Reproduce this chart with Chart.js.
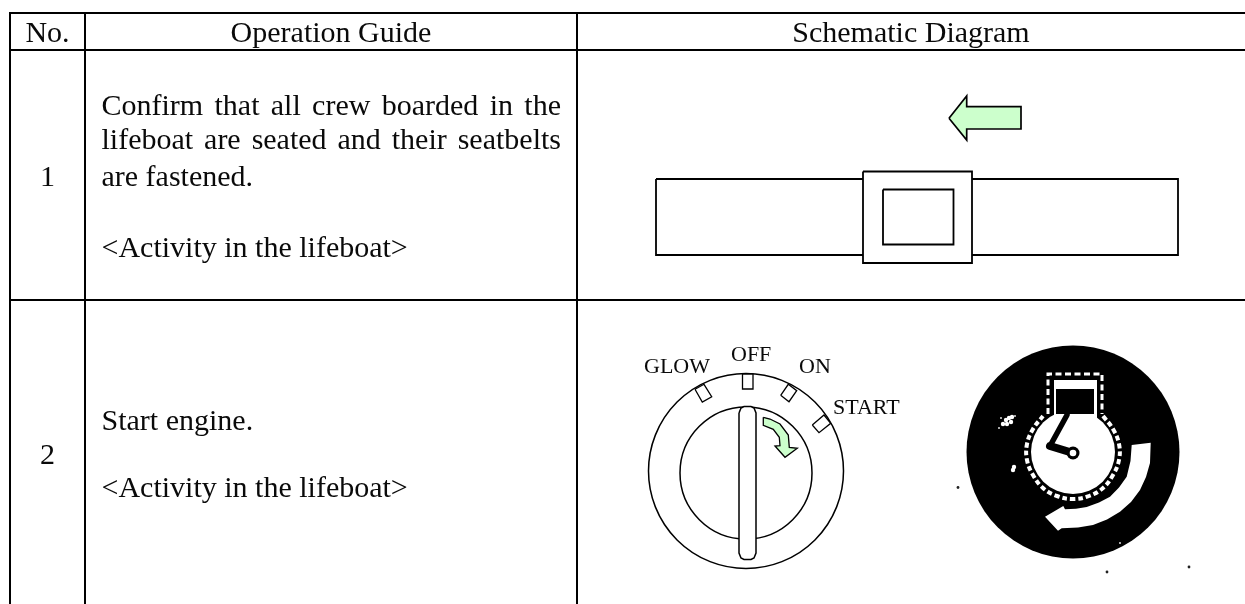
<!DOCTYPE html>
<html>
<head>
<meta charset="utf-8">
<title>Operation Guide</title>
<script src="https://cdn.jsdelivr.net/npm/chart.js@4"></script>
<style>
html, body { margin: 0; padding: 0; background: #fff; }
canvas { display: block; }
</style>
</head>
<body>
<canvas id="myChart" width="1245" height="604"></canvas>
<script>
// table grid
var columnLines = [10, 85, 577];
var rowLines = [13, 50, 300];

// table text
var cellTexts = ['No.', 'Operation Guide', 'Schematic Diagram', '1', '2'];
var cellX = [47.5, 331, 911, 47.5, 47.5];
var cellY = [42, 42, 42, 186, 464];

var guideLines = ['Confirm that all crew boarded in the', 'lifeboat are seated and their seatbelts', 'are fastened.', '<Activity in the lifeboat>', 'Start engine.', '<Activity in the lifeboat>'];
var guideY = [115, 149, 186, 257, 430, 497];
var guideJustified = [true, true, false, false, false, false];

var dialLabels = ['GLOW', 'OFF', 'ON', 'START'];
var dialLabelX = [644, 731, 799, 833];
var dialLabelY = [373, 361, 373, 414];

// seatbelt picture, row 1
var beltArrow = [[949,118.3],[966.7,96],[966.7,106.7],[1021,106.7],[1021,129],[966.7,129],[966.7,140]];
var beltStrap = [[656,179],[1178,179],[1178,255],[656,255]];
var buckleOuter = [[863,171.5],[972,171.5],[972,263],[863,263]];
var buckleInner = [[883,189.5],[953.5,189.5],[953.5,244.5],[883,244.5]];

// ignition switch, row 2
var dialOuter = [{x: 746, y: 471, r: 97.5}];
var dialInner = [{x: 746, y: 473, r: 66}];
var tickGlow = [[695,389.3],[704,384.3],[711.7,396.7],[702.3,402]];
var tickOff = [[742.5,374],[753,374],[753,389],[742.5,389]];
var tickOn = [[780.7,395.3],[788.3,384.3],[796.7,390.7],[789,401.7]];
var tickStart = [[812.3,425],[824,415],[830.7,423.3],[819,432.7]];
var knob = [[739,413],[741,408],[744,406.5],[751,406.5],[754,408],[756,413],[756,553],[754,558],[751,559.5],[744,559.5],[741,558],[739,553]];
var turnArrow = [[763.3,417.3],[763.3,425.3],[773.3,429.3],[779.3,437.3],[780,445.7],[775,446],[785,457.3],[797.3,448.3],[789.3,447.3],[788.3,435],[780,424],[770,419]];

// engine symbol, row 2
var symbolDisc = [{x: 1073, y: 452, r: 106.5}];
var symbolFace = [{x: 1073, y: 452, r: 42}];
var symbolHub = [{x: 1073, y: 453, r: 6.5}];
var symbolHole = [{x: 1073, y: 453, r: 3.3}];
var symbolNeck = [[1054,380],[1097,380],[1097,420],[1054,420]];
var symbolHead = [[1056,389],[1094,389],[1094,414],[1056,414]];
var crankUpper = [[1067,415],[1050,446]];
var crankLower = [[1050,446],[1073,453]];
var ringArc = [[1103,416],[1113,429],[1119,444],[1119,460],[1113,475],[1103,488],[1089,496],[1073,499],[1057,496],[1043,488],[1033,475],[1027,460],[1027,444],[1033,429],[1043,416]];
var ringTop = [[1048,414],[1048,374],[1102,374],[1102,414]];
var whiteArrow = [[1150.7,442.7],[1150,463],[1146,477],[1140,490],[1131,502],[1120,511.7],[1107,519.5],[1093,525],[1078,527.5],[1061.7,528.3],[1058,530.7],[1045,516.7],[1063.3,506],[1065,509.3],[1076,508.8],[1086.7,507],[1099,502.5],[1110,496.7],[1119,487.5],[1126.7,476.7],[1130.5,461],[1131.7,445]];
var whiteSpecks = [{x:1006,y:420},{x:1009,y:418},{x:1011,y:422},{x:1003,y:424},{x:1007,y:424},{x:1012,y:417},{x:1013,y:470},{x:1014,y:467}];
var smallSpecks = [{x:999,y:428},{x:1015,y:416},{x:1001,y:418},{x:1120,y:543}];
var blackSpecks = [{x:958,y:487.5},{x:1189,y:567},{x:1107,y:572}];

function toPoints(list) {
  return list.map(function(p) { return {x: p[0], y: p[1]}; });
}

function shape(list, fillColor, width) {
  var pts = toPoints(list);
  pts.push(pts[0]);
  return {
    type: 'scatter', data: pts, showLine: true, tension: 0, pointRadius: 0,
    borderColor: '#000', borderWidth: width, backgroundColor: fillColor,
    fill: fillColor ? 'shape' : false, borderJoinStyle: 'miter'
  };
}

function stroke(list, color, width, dash, tension, cap) {
  return {
    type: 'scatter', data: toPoints(list), showLine: true, tension: tension || 0, pointRadius: 0,
    borderColor: color, borderWidth: width, borderDash: dash || [], borderCapStyle: cap || 'butt', fill: false
  };
}

function circle(list, fillColor, width) {
  return {type: 'bubble', data: list, backgroundColor: fillColor, borderColor: '#000', borderWidth: width};
}

function dots(list, color, size) {
  return {type: 'scatter', data: list, pointRadius: size, pointBackgroundColor: color, pointBorderWidth: 0, showLine: false};
}

// grid lines, no border on the right side of the table
var gridSets = [];
columnLines.forEach(function(x, i) {
  gridSets.push(stroke([[x, i == 0 ? 12 : rowLines[0]], [x, 604]], '#000', 2));
});
rowLines.forEach(function(y) {
  gridSets.push(stroke([[columnLines[0] - 1, y], [1245, y]], '#000', 2));
});

// listed from bottom to top
var layers = gridSets.concat([
  shape(beltStrap, '#fff', 1.8),
  shape(buckleOuter, '#fff', 1.8),
  shape(buckleInner, '#fff', 1.8),
  shape(beltArrow, '#ccffcc', 1.7),
  circle(dialOuter, '#fff', 1.5),
  circle(dialInner, '#fff', 1.5),
  shape(tickGlow, '#fff', 1.3),
  shape(tickOff, '#fff', 1.3),
  shape(tickOn, '#fff', 1.3),
  shape(tickStart, '#fff', 1.3),
  shape(knob, '#fff', 1.5),
  shape(turnArrow, '#ccffcc', 1.3),
  circle(symbolDisc, '#000', 0),
  stroke(ringArc, '#fff', 4, [5, 3], 0.4),
  stroke(ringTop, '#fff', 3, [6, 3.5]),
  circle(symbolFace, '#fff', 0),
  shape(symbolNeck, '#fff', 0),
  shape(symbolHead, '#000', 0),
  stroke(crankUpper, '#000', 5.5, [], 0, 'round'),
  stroke(crankLower, '#000', 8, [], 0, 'round'),
  circle(symbolHub, '#000', 0),
  circle(symbolHole, '#fff', 0),
  shape(whiteArrow, '#fff', 0),
  dots(whiteSpecks, '#fff', 2.2),
  dots(smallSpecks, '#ddd', 1),
  dots(blackSpecks, '#222', 1.4)
]);

// higher order gets painted first
layers.forEach(function(d, i) { d.order = layers.length - i; });

var textPlugin = {
  id: 'tableText',
  afterDatasetsDraw: function(chart) {
    var c = chart.ctx, sx = chart.scales.x, sy = chart.scales.y;
    c.save();
    c.fillStyle = '#0a0a0a';
    c.textBaseline = 'alphabetic';
    c.font = "30px 'Liberation Serif'";
    c.textAlign = 'center';
    cellTexts.forEach(function(t, i) {
      c.fillText(t, sx.getPixelForValue(cellX[i]), sy.getPixelForValue(cellY[i]));
    });
    c.textAlign = 'left';
    var left = sx.getPixelForValue(101.5), right = sx.getPixelForValue(561);
    guideLines.forEach(function(t, i) {
      var y = sy.getPixelForValue(guideY[i]);
      if (!guideJustified[i]) {
        c.fillText(t, left, y);
        return;
      }
      // justified like the document text
      var words = t.split(' ');
      var used = 0;
      words.forEach(function(w) { used += c.measureText(w).width; });
      var gap = (right - left - used) / (words.length - 1);
      var x = left;
      words.forEach(function(w) {
        c.fillText(w, x, y);
        x += c.measureText(w).width + gap;
      });
    });
    c.font = "22px 'Liberation Serif'";
    dialLabels.forEach(function(t, i) {
      c.fillText(t, sx.getPixelForValue(dialLabelX[i]), sy.getPixelForValue(dialLabelY[i]));
    });
    c.restore();
  }
};

var ctx = document.getElementById('myChart');
var myChart = new Chart(ctx, {
  type: 'scatter',
  data: { datasets: layers },
  plugins: [textPlugin],
  options: {
    responsive: false,
    animation: false,
    events: [],
    layout: { padding: 0, autoPadding: false },
    scales: {
      x: { type: 'linear', min: 0, max: 1245, display: false },
      y: { type: 'linear', min: 0, max: 604, reverse: true, display: false }
    },
    plugins: {
      legend: { display: false },
      tooltip: { enabled: false }
    }
  }
});
</script>
</body>
</html>
